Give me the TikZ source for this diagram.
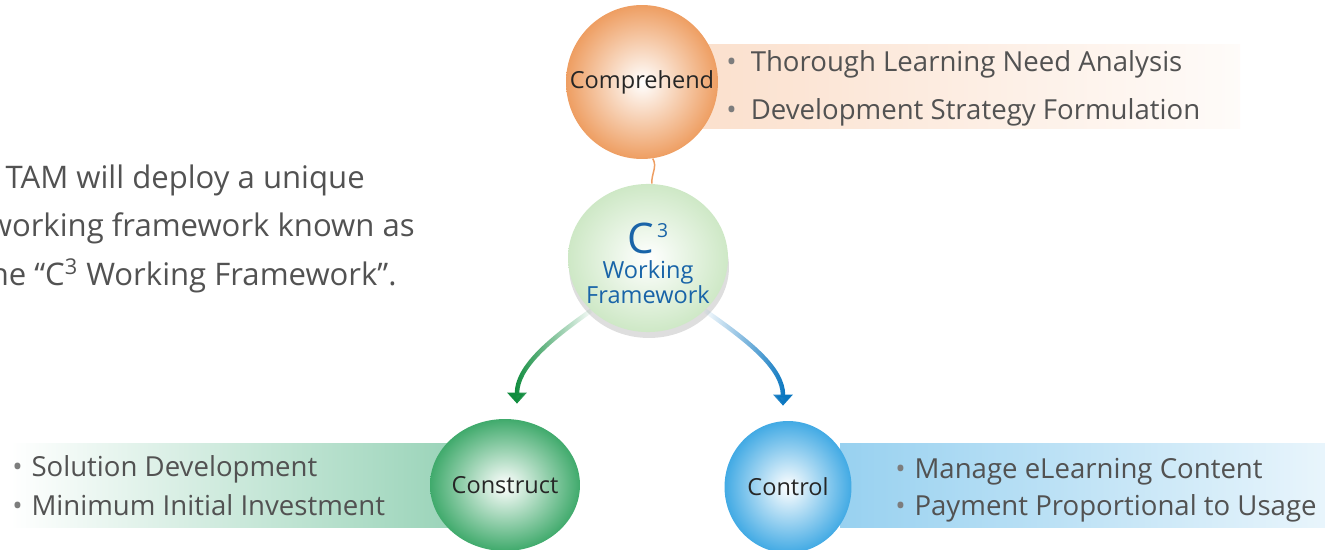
\documentclass[tikz,border=0pt]{standalone}
\usepackage{fontspec}
\setmainfont{Open Sans}
\usetikzlibrary{shapes.geometric,arrows.meta,fadings}

\definecolor{txtgrey}{RGB}{82,82,82}
\definecolor{dotgrey}{RGB}{125,125,125}
\definecolor{orng}{RGB}{238,158,98}
\definecolor{peach}{RGB}{251,224,205}
\definecolor{leaf}{RGB}{64,170,108}
\definecolor{mint}{RGB}{150,210,182}
\definecolor{pale}{RGB}{206,232,198}
\definecolor{sky}{RGB}{66,170,228}
\definecolor{ice}{RGB}{152,209,240}
\definecolor{ink}{RGB}{25,100,168}
\definecolor{darkleaf}{RGB}{16,140,62}
\definecolor{darksky}{RGB}{10,118,192}

\newcommand{\itm}[2][8pt]{{\color{dotgrey}\textbullet}\hspace{#1}#2}

\tikzset{
  ball/.style={ellipse, shade, inner sep=0pt, text=black!85, font=\fontsize{13.4}{15}\selectfont},
  item/.style={right, inner sep=0pt, text=txtgrey, font=\fontsize{15.7}{18}\selectfont},
  intro/.style={left, inner sep=0pt, text=txtgrey, font=\fontsize{17.7}{20}\selectfont},
  flow/.style={line width=0.09cm, shorten >=0.3cm, -{Triangle[width=0.38cm,length=0.22cm]}},
}

\begin{document}
\begin{tikzpicture}[x=0.02cm, y=-0.02cm]
 \useasboundingbox (0,0) rectangle (1325,550);
 \clip (0,0) rectangle (1325,550);

 % bands behind the lists
 \shade[left color=peach, right color=peach!12] (700,45) rectangle (1240,129);
 \shade[left color=white, right color=mint] (10,443) rectangle (470,527);
 \shade[left color=ice, right color=ice!22] (840,443) rectangle (1325,527);

 % balls
 \node[ball, minimum width=3.04cm, minimum height=3.08cm, inner color=white, outer color=orng] (comprehend) at (642,82) {\makebox[0pt]{Comprehend}};
 \fill[black!13] (649,267) ellipse [x radius=1.6cm, y radius=1.42cm];
 \node[ball, minimum width=3.2cm, minimum height=2.6cm, inner color=white, outer color=pale, text=ink, font=\fontsize{13.4}{13.6}\selectfont] (frame) at (648,258)
   {\makebox[0pt]{\begin{tabular}{@{}c@{}}\rule{0pt}{27pt}{\fontsize{24}{24}\selectfont C\hspace{1.5pt}\raisebox{9pt}{\fontsize{11}{11}\selectfont 3}}\\Working\\Framework\end{tabular}}};
 \node[ball, minimum width=3cm, minimum height=2.64cm, inner color=white, outer color=leaf] (construct) at (505,485) {\makebox[0pt]{Construct}};
 \node[ball, minimum width=2.54cm, minimum height=2.64cm, inner color=white, outer color=sky] (control) at (788,487) {\makebox[0pt]{Control}};

 % connectors
 \draw[orng, line width=0.03cm] (comprehend.-82) to[out=-60, in=95] (frame.87);
 \draw[flow, darkleaf, path fading=east] (frame.south west) to[out=215, in=90] ([xshift=0.24cm]construct.north);
 \draw[flow, darksky, path fading=west] (frame.south east) to[out=-35, in=90] ([xshift=-0.1cm]control.north);

 % lists
 \node[item] (need) at (726,64) {\itm{Thorough Learning Need Analysis}};
 \node[item] (strategy) at (726,112) {\itm{Development Strategy Formulation}};
 \node[item] (solution) at (12,469) {\itm[5pt]{Solution Development}};
 \node[item] (investment) at (12,505) {\itm[5pt]{Minimum Initial Investment}};
 \node[item] (manage) at (895,472) {\itm[5pt]{Manage eLearning Content}};
 \node[item] (payment) at (895,508) {\itm[5pt]{Payment Proportional to Usage}};

 % intro text
 \node[intro] (deploy) at (365,180) {TAM will deploy a unique};
 \node[intro] (known) at (415,228) {working framework known as};
 \node[intro] (named) at (397,276) {the ``C\textsuperscript{3} Working Framework''.};
\end{tikzpicture}
\end{document}
